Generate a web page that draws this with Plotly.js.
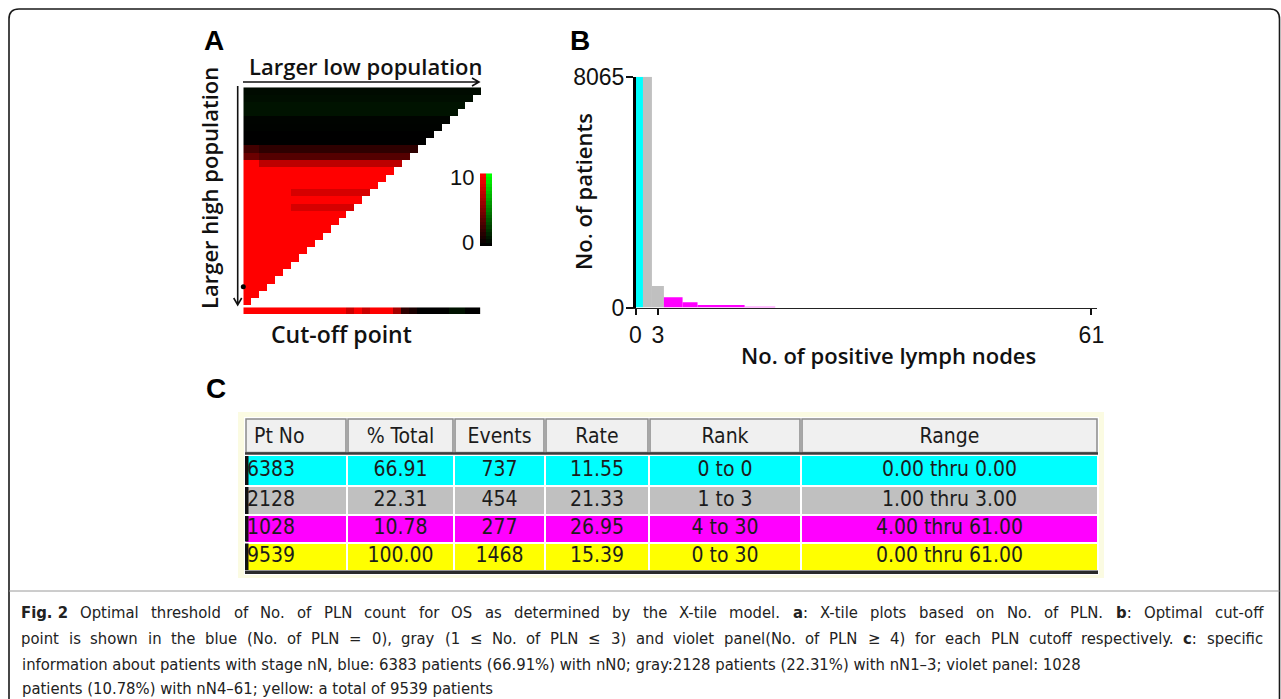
<!DOCTYPE html>
<html><head><meta charset="utf-8">
<script src="https://cdn.plot.ly/plotly-3.0.1.min.js"></script>
<style>body{margin:0;background:#fff}#chart{width:1281px;height:699px}</style>
</head><body><div id="chart"></div>
<script>
// ================= DATA =================
// Panel A – X-tile triangle: row r holds (30 - r) cells. Signed values: + = red (inverse), - = green (direct)
const xtileRowMain  = [-0.45,-0.55,-0.75,-0.75,-0.15,-0.1,0,0,2.6,4.2,10,10,10,10,10,10,10,10,10,10,10,10,10,10,10,10,10,10,10,10];
const xtileRowInner = [-0.45,-0.55,-0.75,-0.75,-0.15,-0.1,0,0,1.8,3.3,7.4,10,10,10,8.4,10,8.4,10,10,10,10,10,10,10,10,10,10,10,10,10];
const xtileRowSplit = [0,0,0,0,0,0,0,0,2,2,2,0,0,0,6,0,6,0,0,0,0,0,0,0,0,0,0,0,0,0];
const cutoffStrip   = [10,10,10,10,10,10,10,10,10,10,10,10,10,8,10,8,10,10,10,6.5,1.8,1,0,0,0,0,-0.7,-0.7,0,0];
const optimalCutRow = 27;
const colorbarLabels = ['0','10'];

// Panel B – histogram of positive lymph nodes
const histLeft  = [0,   1.0, 2.2, 3.8, 6.3, 8.3, 14.6];
const histRight = [1.0, 2.2, 3.8, 6.3, 8.3, 14.6, 18.7];
const histCount = [8065, 8065, 751, 356, 182, 87, 28];
const histGroup = ['low','mid','mid','high','high','high','high'];
const histYTicks = [0, 8065];
const histXTicks = [0, 3, 61];

// Panel C – table
const tableHeader = ['Pt No','% Total','Events','Rate','Rank','Range'];
const ptNo     = ['6383','2128','1028','9539'];
const pctTotal = ['66.91','22.31','10.78','100.00'];
const events   = ['737','454','277','1468'];
const rate     = ['11.55','21.33','26.95','15.39'];
const rankTxt  = ['0 to 0','1 to 3','4 to 30','0 to 30'];
const rangeTxt = ['0.00 thru 0.00','1.00 thru 3.00','4.00 thru 61.00','0.00 thru 61.00'];
const rowGroup = ['low','mid','high','total'];

const captionLines = [
 '<b>Fig.\u00a02</b> Optimal threshold of No. of PLN count for OS as determined by the X-tile model. <b>a</b>: X-tile plots based on No. of PLN. <b>b</b>: Optimal cut-off',
 'point is shown in the blue (No. of PLN = 0), gray (1 \u2264 No. of PLN \u2264 3) and violet panel(No. of PLN \u2265 4) for each PLN cutoff respectively. <b>c</b>: specific',
 'information about patients with stage nN, blue: 6383 patients (66.91%) with nN0; gray:2128 patients (22.31%) with nN1\u20133; violet panel: 1028',
 'patients (10.78%) with nN4\u201361; yellow: a total of 9539 patients'
];
const captionJustified = [true, true, false, false];

// ================= LAYOUT HELPERS =================
const W = 1281, H = 699;
const PX = p => p / W, PY = p => 1 - p / H;
const groupColor = {low:'#00ffff', mid:'#c0c0c0', high:'#ff00ff', total:'#ffff00'};
const xtScale = [[0,'#00ff00'],[0.5,'#000000'],[1,'#ff0000']];
const LBL = 'Open Sans, Noto Sans, sans-serif';
const NUM = 'Liberation Sans, Arial, sans-serif';
const NAR = 'DejaVu Sans Condensed';
const CAP_SIZE = 16.5;

// ---- Panel A heatmap matrix
const N = xtileRowMain.length;
const zTri = xtileRowMain.map((m, r) => {
  const row = [];
  for (let c = 0; c < N; c++) {
    if (c < N - r) row.push(c < xtileRowSplit[r] || xtileRowSplit[r] === 0 ? m : xtileRowInner[r]);
    else row.push(null);
  }
  return row;
});
const cbLevels = [];
for (let v = 0; v <= 10.001; v += 0.5) cbLevels.push(v);

const traces = [];
traces.push({type:'heatmap', z:zTri, xaxis:'x', yaxis:'y', colorscale:xtScale, zmin:-10, zmax:10, showscale:false, hoverinfo:'skip'});
traces.push({type:'heatmap', z:[cutoffStrip], xaxis:'x2', yaxis:'y2', colorscale:xtScale, zmin:-10, zmax:10, showscale:false, hoverinfo:'skip'});
traces.push({type:'heatmap', z:cbLevels.map(v => [v, -v]), xaxis:'x3', yaxis:'y3', colorscale:xtScale, zmin:-10, zmax:10, showscale:false, hoverinfo:'skip'});
traces.push({type:'scatter', mode:'markers', x:[-0.5], y:[optimalCutRow], xaxis:'x', yaxis:'y', marker:{size:5, color:'#000'}, cliponaxis:false, hoverinfo:'skip'});

// ---- Panel B bars
traces.push({type:'bar', xaxis:'x4', yaxis:'y4',
  x: histLeft.map((l,i) => (l + histRight[i]) / 2),
  width: histLeft.map((l,i) => histRight[i] - l),
  y: histCount,
  marker:{color: histGroup.map(g => groupColor[g]), line:{width:0}}, hoverinfo:'skip'});

// ---- Panel C table (pixel axes x6/y6)
const colEdges = [245, 347, 454, 545, 649, 801, 1098];
const rowEdges = [455, 486, 515, 542.5, 571];
const colIdx = {low:0, mid:1, high:2, total:3};
traces.push({type:'heatmap', xaxis:'x6', yaxis:'y6', x: colEdges, y: rowEdges,
  z: rowGroup.map(g => tableHeader.map(() => colIdx[g])),
  colorscale:[[0,groupColor.low],[1/3,groupColor.mid],[2/3,groupColor.high],[1,groupColor.total]],
  zmin:0, zmax:3, xgap:2, ygap:2, showscale:false, hoverinfo:'skip'});
const rowCenters = rowGroup.map((g,i) => (rowEdges[i] + rowEdges[i+1]) / 2);
const colCenters = tableHeader.map((h,j) => (colEdges[j] + colEdges[j+1]) / 2);
const cols = [ptNo, pctTotal, events, rate, rankTxt, rangeTxt];
const tfont = {family:NAR, size:21, color:'#1c1c1c'};
traces.push({type:'scatter', mode:'text', xaxis:'x6', yaxis:'y6', x: ptNo.map(() => 247), y: rowCenters,
  text: ptNo, textposition:'middle right', textfont:tfont, hoverinfo:'skip', cliponaxis:false});
const tx = [], ty = [], tt = [];
cols.slice(1).forEach((col, k) => col.forEach((v, i) => { tx.push(colCenters[k+1]); ty.push(rowCenters[i]); tt.push(v); }));
traces.push({type:'scatter', mode:'text', xaxis:'x6', yaxis:'y6', x: tx, y: ty, text: tt,
  textposition:'middle center', textfont:tfont, hoverinfo:'skip', cliponaxis:false});
traces.push({type:'scatter', mode:'text', xaxis:'x6', yaxis:'y6',
  x: tableHeader.map((h,j) => j === 0 ? 254 : colCenters[j]), y: tableHeader.map(() => 437.5), text: tableHeader,
  textposition: tableHeader.map((h,j) => j === 0 ? 'middle right' : 'middle center'),
  textfont:tfont, hoverinfo:'skip', cliponaxis:false});

// ================= SHAPES =================
const pxs = (o) => Object.assign({xref:'x6', yref:'y6'}, o);
const shapes = [];
shapes.push(pxs({type:'path', path:'M 9 720 L 9 19 Q 9 9 19 9 L 1270 9 Q 1279.5 9 1279.5 19 L 1279.5 720', line:{color:'#1a1a1a', width:1.6}}));
shapes.push(pxs({type:'line', x0:9, x1:1279.5, y0:591, y1:591, line:{color:'#9a9a9a', width:1}}));
shapes.push(pxs({type:'path', path:'M 243 82 L 479 82 M 472 78 L 479 82 L 472 86', line:{color:'#111', width:1.6}}));
shapes.push(pxs({type:'path', path:'M 237.7 86 L 237.7 305 M 233.7 298 L 237.7 305 L 241.7 298', line:{color:'#111', width:1.6}}));
shapes.push(pxs({type:'rect', x0:238, x1:1104, y0:412, y1:578, fillcolor:'#fbfbe2', line:{width:0}, layer:'below'}));
shapes.push(pxs({type:'rect', x0:244, x1:1099, y0:417, y1:575, fillcolor:'#ffffff', line:{width:0}, layer:'below'}));
tableHeader.forEach((h,j) => {
  shapes.push(pxs({type:'rect', x0:colEdges[j]+1, x1:colEdges[j+1]-1, y0:419, y1:452.5, fillcolor:'#f0f0f0', line:{color:'#8a8a8a', width:1.5}, layer:'below'}));
});
shapes.push(pxs({type:'line', x0:245, x1:1098, y0:453.5, y1:453.5, line:{color:'#3c3c3c', width:2.5}}));
rowGroup.forEach((g,i) => {
  shapes.push(pxs({type:'rect', x0:245, x1:248.5, y0:rowEdges[i]+1, y1:rowEdges[i+1]-1, fillcolor:'#111', line:{width:0}}));
});
shapes.push(pxs({type:'rect', x0:245, x1:1098, y0:570.5, y1:574, fillcolor:'#2a2a2a', line:{width:0}}));

// ================= ANNOTATIONS =================
const ann = [];
const A = (o) => ann.push(Object.assign({xref:'x6', yref:'y6', showarrow:false, xanchor:'center', yanchor:'middle'}, o));
A({x:214, y:40, text:'<b>A</b>', font:{family:NUM, size:28, color:'#000'}});
A({x:580, y:40, text:'<b>B</b>', font:{family:NUM, size:28, color:'#000'}});
A({x:216, y:388, text:'<b>C</b>', font:{family:NUM, size:28, color:'#000'}});
const lblFont = (s) => ({family:LBL, size:s, color:'#111', weight:600});
A({x:365, y:66, text:'Larger low population', font:lblFont(22)});
A({x:209, y:188, text:'Larger high population', textangle:-90, font:lblFont(22)});
A({x:341, y:334, text:'Cut-off point', font:lblFont(23)});
A({x:476, y:177, xanchor:'right', text:colorbarLabels[1], font:{family:NUM, size:22, color:'#111'}});
A({x:476, y:242, xanchor:'right', text:colorbarLabels[0], font:{family:NUM, size:22, color:'#111'}});
A({x:583, y:192, text:'No. of patients', textangle:-90, font:lblFont(22)});
A({x:888, y:355, text:'No. of positive lymph nodes', font:lblFont(22)});

// caption, lines 1-2 justified like the source
const ctx = document.createElement('canvas').getContext('2d');
const measure = (s, bold) => { ctx.font = (bold ? 'bold ' : '') + CAP_SIZE + 'px "' + NAR + '"'; return ctx.measureText(s).width; };
const capFont = {family:NAR, size:CAP_SIZE, color:'#222'};
captionLines.forEach((line, li) => {
  const y = 612 + 26 * li - (li === 3 ? 2 : 0);
  if (!captionJustified[li]) { A({x:20, y, xanchor:'left', text:line, font:capFont}); return; }
  let bold = false; const toks = [];
  line.split(' ').forEach(w => {
    let width = 0, html = '';
    w.split(/(<b>|<\/b>)/).filter(p => p !== '').forEach(p => {
      if (p === '<b>') bold = true; else if (p === '</b>') bold = false;
      else { width += measure(p, bold); html += bold ? '<b>' + p + '</b>' : p; }
    });
    toks.push({html, width});
  });
  const total = toks.reduce((s, t) => s + t.width, 0);
  const gap = (1262 - 20 - total) / (toks.length - 1);
  let x = 20;
  toks.forEach(t => { A({x, y, xanchor:'left', text:t.html, font:capFont, borderpad:0}); x += t.width + gap; });
});

// ================= LAYOUT =================
const hid = {visible:false, fixedrange:true};
const layout = {
  width:W, height:H, margin:{l:0,r:0,t:0,b:0}, paper_bgcolor:'#fff', plot_bgcolor:'rgba(0,0,0,0)',
  showlegend:false, shapes, annotations:ann,
  xaxis: Object.assign({domain:[PX(243.3), PX(481)], range:[-0.5, N-0.5], anchor:'y'}, hid),
  yaxis: Object.assign({domain:[PY(305), PY(87.3)], range:[N-0.5, -0.5], anchor:'x'}, hid),
  xaxis2: Object.assign({domain:[PX(243.3), PX(480.5)], range:[-0.5, N-0.5], anchor:'y2'}, hid),
  yaxis2: Object.assign({domain:[PY(314), PY(307.3)], range:[-0.5, 0.5], anchor:'x2'}, hid),
  xaxis3: Object.assign({domain:[PX(480), PX(492)], range:[-0.5, 1.5], anchor:'y3'}, hid),
  yaxis3: Object.assign({domain:[PY(246), PY(173.3)], range:[-0.5, cbLevels.length-0.5], anchor:'x3'}, hid),
  xaxis4: {domain:[PX(635.5), PX(1097)], range:[0, 61.75], anchor:'y4', fixedrange:true,
    showline:true, linecolor:'#222', linewidth:1.5, showgrid:false, zeroline:false,
    tickmode:'array', tickvals:histXTicks, ticktext:histXTicks.map(String), ticks:'outside', ticklen:6, tickwidth:2, tickcolor:'#111',
    ticklabelstandoff:0, tickfont:{family:NUM, size:23, color:'#111'}},
  yaxis4: {domain:[PY(307.5), PY(76.7)], range:[0, 8065], anchor:'x4', fixedrange:true,
    showline:true, linecolor:'#000', linewidth:2.5, showgrid:false, zeroline:false,
    tickmode:'array', tickvals:histYTicks, ticktext:histYTicks.map(String), ticks:'outside', ticklen:7, tickwidth:2, tickcolor:'#111',
    ticklabelstandoff:-3, tickfont:{family:NUM, size:23, color:'#111'}},
  xaxis6: Object.assign({domain:[0,1], range:[0, W], anchor:'y6'}, hid),
  yaxis6: Object.assign({domain:[0,1], range:[H, 0], anchor:'x6'}, hid)
};
Plotly.newPlot('chart', traces, layout, {staticPlot:true, displayModeBar:false});
</script></body></html>
